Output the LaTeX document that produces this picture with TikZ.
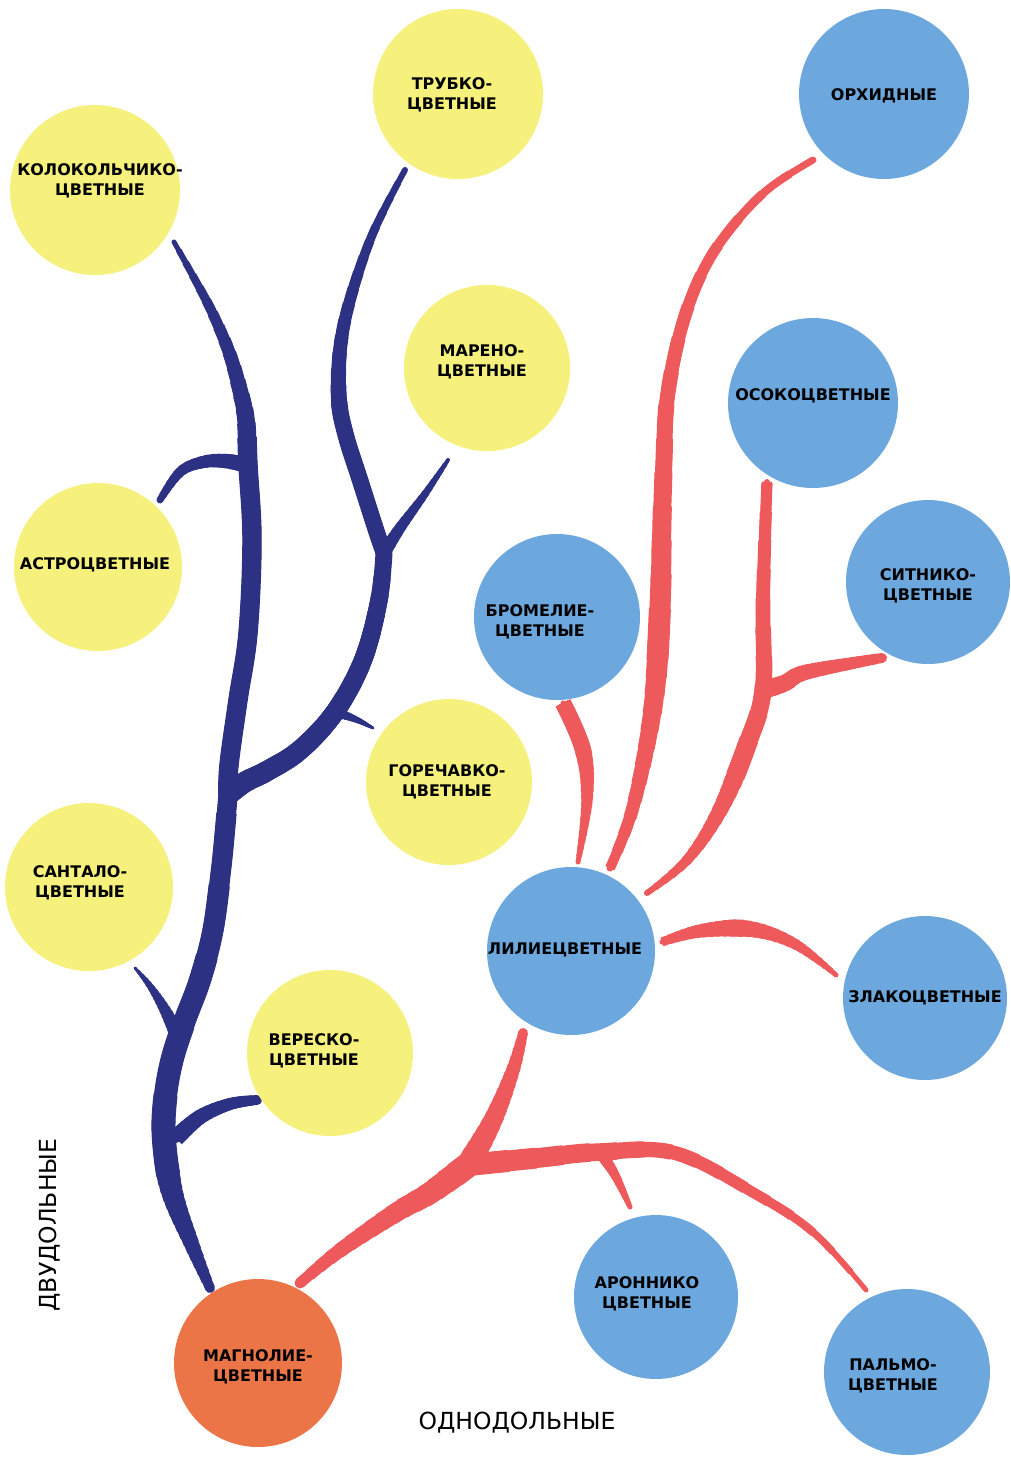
\documentclass[tikz,border=0pt]{standalone}
\usepackage{fontspec}
\setmainfont{DejaVu Sans}
\definecolor{yel}{HTML}{F6F17C}
\definecolor{blu}{HTML}{6CA8DE}
\definecolor{ora}{HTML}{EC7548}
\definecolor{navy}{HTML}{2D3183}
\definecolor{rd}{HTML}{EE5A5C}
\tikzset{
  circ/.style={circle, inner sep=0pt},
  ycirc/.style={circ, fill=yel},
  bcirc/.style={circ, fill=blu},
  ocirc/.style={circ, fill=ora},
  lbl/.style={align=center, inner sep=0pt, font=\bfseries\fontsize{16}{20}\selectfont},
  axis label/.style={font=\fontsize{23.5}{28}\selectfont},
}
% tapered branch: #1 colour, #2 path length, #3 start radius, #4 position of widest point,
% #5 widest radius, #6 end radius, #7 path
\newcommand\taperbranch[7]{%
  \pgfmathsetmacro\bmin{min(#3,#6)}%
  \pgfmathsetmacro\blw{2*\bmin}%
  \draw[#1, line width=\blw pt, line cap=round] #7;
  \foreach \k in {1,...,16}{%
    \pgfmathsetmacro\rr{\bmin+\k*(#5-\bmin)/16}%
    \pgfmathsetmacro\ss{#4*max(0,\rr-#3)/max(#5-#3,0.01)}%
    \pgfmathsetmacro\ee{#4+(1-#4)*(1-max(0,\rr-#6)/max(#5-#6,0.01))}%
    \pgfmathsetmacro\sl{\ss*#2+0.01}%
    \pgfmathsetmacro\dl{max(\ee-\ss,0)*#2}%
    \pgfmathsetmacro\lw{2*\rr}%
    \draw[#1, line width=\lw pt, line cap=butt, dash pattern=on 0pt off \sl pt on \dl pt off 3000pt] #7;
  }%
}
\begin{document}
\begin{tikzpicture}[x=1pt,y=-1pt]
\useasboundingbox (0,0) rectangle (1011,1457);
\fill[white] (0,0) rectangle (1011,1457);

% ---------- blue tree (dicots) ----------
\coordinate (bJ) at (228,795);
\coordinate (bF) at (384,553);
\coordinate (bA) at (248,465);
\coordinate (bS) at (180,1040);
\coordinate (bV) at (176,1138);
\coordinate (bP) at (335,712);
\taperbranch{navy}{515}{5}{0.25}{12.5}{10}{plot[smooth,tension=0.6] coordinates
  {(210,1288) (192,1245) (172,1192) (164,1140) (165,1100) (172,1060) (185,1020) (200,980) (213,930) (221,870) (225,830) (bJ)}}
\taperbranch{navy}{575}{10}{0.6}{10.2}{2.5}{plot[smooth,tension=0.6] coordinates
  {(bJ) (229,765) (238,700) (248,633) (252,540) (bA) (246,420) (240,390) (229,352) (212,312) (193,276) (174,242)}}
\taperbranch{navy}{300}{10.5}{0.03}{10.6}{8.5}{plot[smooth,tension=0.6] coordinates
  {(bJ) (245,782) (267,771) (300,750) (bP) (363,660) (379,600) (bF)}}
\taperbranch{navy}{405}{8.5}{0.35}{8.6}{3}{plot[smooth,tension=0.6] coordinates
  {(bF) (377,533) (360,480) (346,436) (339,400) (340,350) (350,300) (373,233) (405,170)}}
\taperbranch{navy}{115}{6.5}{0.05}{6.6}{2}{plot[smooth,tension=0.6] coordinates
  {(bF) (400,528) (425,494) (448,460)}}
\taperbranch{navy}{42}{5}{0.05}{5.1}{1.5}{plot[smooth,tension=0.6] coordinates
  {(bP) (355,719) (373,728)}}
\taperbranch{navy}{107}{8}{0.05}{8.1}{3.5}{plot[smooth,tension=0.6] coordinates
  {(bA) (225,461) (203,462) (180,472) (160,500)}}
\taperbranch{navy}{86}{8}{0.05}{8.1}{1.5}{plot[smooth,tension=0.6] coordinates
  {(bS) (165,1010) (150,986) (135,968)}}
\taperbranch{navy}{93}{8.5}{0.05}{8.6}{5}{plot[smooth,tension=0.6] coordinates
  {(bV) (200,1117) (230,1104) (257,1100)}}

% ---------- red tree (monocots) ----------
\coordinate (rJ) at (468,1165);
\coordinate (rA) at (600,1152);
\coordinate (rO) at (763,690);
\taperbranch{rd}{208}{5.5}{0.97}{13}{12.9}{plot[smooth,tension=0.6] coordinates
  {(300,1283) (330,1258) (359,1237) (400,1210) (430,1193) (rJ)}}
\taperbranch{rd}{145}{12}{0.03}{12.1}{5}{plot[smooth,tension=0.6] coordinates
  {(rJ) (493,1120) (513,1070) (523,1033)}}
\taperbranch{rd}{450}{11.5}{0.03}{11.6}{2.5}{plot[smooth,tension=0.6] coordinates
  {(rJ) (537,1158) (rA) (675,1153) (754,1193) (814,1233) (866,1290)}}
\taperbranch{rd}{64}{6}{0.05}{6.1}{2.5}{plot[smooth,tension=0.6] coordinates
  {(rA) (615,1175) (630,1207)}}
\taperbranch{rd}{166}{8.5}{0.3}{8.6}{2.5}{plot[smooth,tension=0.6] coordinates
  {(563,703) (583,750) (587,800) (578,862)}}
\taperbranch{rd}{775}{5}{0.3}{11.5}{3.5}{plot[smooth,tension=0.6] coordinates
  {(610,868) (633,807) (653,707) (660,607) (662,520) (664,460) (667,400) (680,333) (700,277) (727,233) (767,190) (813,160)}}
\taperbranch{rd}{455}{3}{0.35}{10}{5.5}{plot[smooth,tension=0.6] coordinates
  {(647,893) (687,860) (720,810) (747,745) (rO) (763,600) (767,482)}}
\taperbranch{rd}{126}{9}{0.05}{9.1}{5}{plot[smooth,tension=0.6] coordinates
  {(rO) (785,683) (803,673) (853,663) (882,658)}}
\taperbranch{rd}{190}{4.5}{0.4}{9}{2.5}{plot[smooth,tension=0.6] coordinates
  {(662,942) (700,931) (750,929) (795,944) (836,975)}}

% ---------- circles ----------
\node[ycirc, minimum size=170pt] (kolo) at (95,190) {};
\node[ycirc, minimum size=170pt] (trub) at (458,94) {};
\node[ycirc, minimum size=166pt] (maren) at (487,368) {};
\node[ycirc, minimum size=168pt] (astro) at (98,567) {};
\node[ycirc, minimum size=166pt] (gorech) at (449,782) {};
\node[ycirc, minimum size=168pt] (santal) at (89,887) {};
\node[ycirc, minimum size=166pt] (veresk) at (330,1053) {};
\node[ocirc, minimum size=168pt] (magn) at (258,1363) {};
\node[bcirc, minimum size=170pt] (orch) at (884,94) {};
\node[bcirc, minimum size=170pt] (osoko) at (813,403) {};
\node[bcirc, minimum size=164pt] (sitn) at (928,582) {};
\node[bcirc, minimum size=166pt] (brom) at (557,617) {};
\node[bcirc, minimum size=168pt] (lili) at (571,951) {};
\node[bcirc, minimum size=164pt] (zlak) at (925,998) {};
\node[bcirc, minimum size=164pt] (aron) at (656,1297) {};
\node[bcirc, minimum size=166pt] (palm) at (907,1372) {};

% ---------- circle texts ----------
\node[lbl] (kolo-t) at (100,181) {КОЛОКОЛЬЧИКО-\\ЦВЕТНЫЕ};
\node[lbl] (trub-t) at (452,95) {ТРУБКО-\\ЦВЕТНЫЕ};
\node[lbl] (maren-t) at (482,362) {МАРЕНО-\\ЦВЕТНЫЕ};
\node[lbl] (astro-t) at (95,565) {АСТРОЦВЕТНЫЕ};
\node[lbl] (gorech-t) at (447,782) {ГОРЕЧАВКО-\\ЦВЕТНЫЕ};
\node[lbl] (santal-t) at (80,883) {САНТАЛО-\\ЦВЕТНЫЕ};
\node[lbl] (veresk-t) at (314,1051) {ВЕРЕСКО-\\ЦВЕТНЫЕ};
\node[lbl] (magn-t) at (258,1367) {МАГНОЛИЕ-\\ЦВЕТНЫЕ};
\node[lbl] (orch-t) at (884,96) {ОРХИДНЫЕ};
\node[lbl] (osoko-t) at (813,396) {ОСОКОЦВЕТНЫЕ};
\node[lbl] (sitn-t) at (928,586) {СИТНИКО-\\ЦВЕТНЫЕ};
\node[lbl] (brom-t) at (540,622) {БРОМЕЛИЕ-\\ЦВЕТНЫЕ};
\node[lbl] (lili-t) at (565,950) {ЛИЛИЕЦВЕТНЫЕ};
\node[lbl] (zlak-t) at (925,998) {ЗЛАКОЦВЕТНЫЕ};
\node[lbl] (aron-t) at (647,1294) {АРОННИКО\\ЦВЕТНЫЕ};
\node[lbl] (palm-t) at (893,1376) {ПАЛЬМО-\\ЦВЕТНЫЕ};

% ---------- group labels ----------
\node[axis label, rotate=90] (dvu) at (50,1225) {ДВУДОЛЬНЫЕ};
\node[axis label] (odno) at (517,1423) {ОДНОДОЛЬНЫЕ};
\end{tikzpicture}
\end{document}
